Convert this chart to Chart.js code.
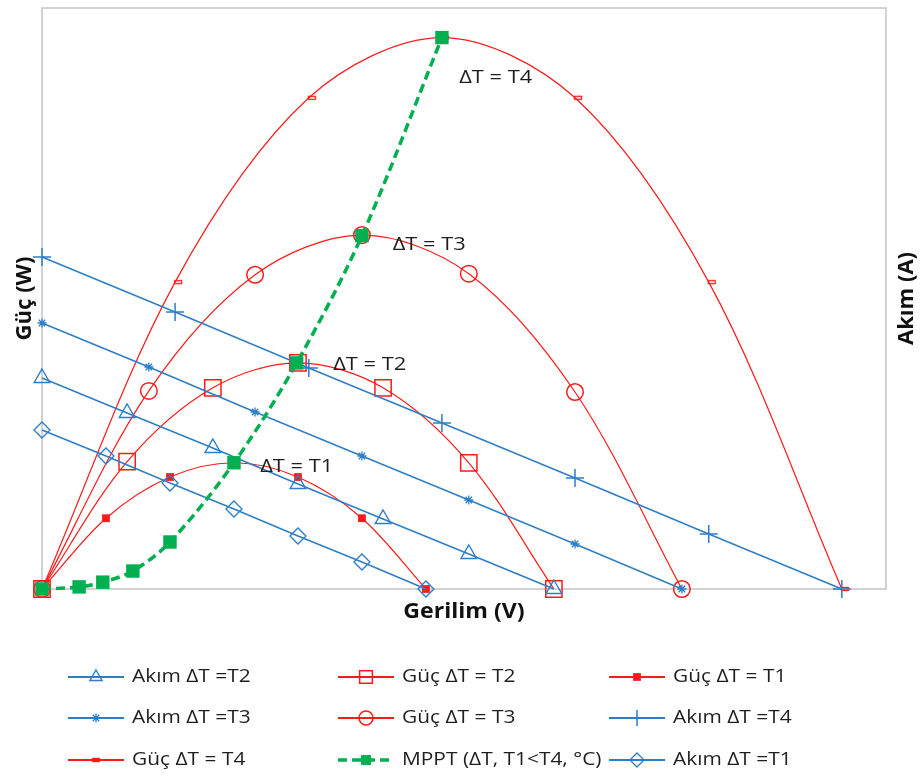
<!DOCTYPE html>
<html>
<head>
<meta charset="utf-8">
<script src="https://cdn.jsdelivr.net/npm/chart.js@4/dist/chart.umd.min.js"></script>
<style>
  html, body { margin: 0; padding: 0; background: #ffffff; }
  #wrap { width: 924px; height: 776px; position: relative; }
</style>
</head>
<body>
<div id="wrap"><canvas id="chart"></canvas></div>
<script>
// Voltage samples (V) for each temperature difference
const vT1 = [0, 1, 2, 3, 4, 5, 6];
const vT2 = [0, 1.33, 2.67, 4, 5.33, 6.67, 8];
const vT3 = [0, 1.67, 3.33, 5, 6.67, 8.33, 10];
const vT4 = [0, 2.08, 4.17, 6.25, 8.33, 10.42, 12.5];
const vMppt = [0, 0.58, 0.95, 1.42, 2.0, 3.0, 3.98, 5.0, 6.25];

// Current (A)
const iT1 = [1.59, 1.33, 1.06, 0.80, 0.53, 0.27, 0];
const iT2 = [2.11, 1.76, 1.41, 1.05, 0.70, 0.35, 0];
const iT3 = [2.66, 2.22, 1.77, 1.33, 0.89, 0.45, 0];
const iT4 = [3.32, 2.77, 2.21, 1.66, 1.11, 0.55, 0];

// Power (W)
const pT1 = [0, 1.34, 2.12, 2.39, 2.12, 1.34, 0];
const pT2 = [0, 2.41, 3.81, 4.28, 3.81, 2.39, 0];
const pT3 = [0, 3.75, 5.95, 6.70, 5.97, 3.73, 0];
const pT4 = [0, 5.81, 9.30, 10.44, 9.30, 5.81, 0];
const pMppt = [0, 0.04, 0.13, 0.34, 0.89, 2.39, 4.28, 6.69, 10.44];

// Curve labels and where they sit (V, W)
const curveLabels = ['ΔT = T1', 'ΔT = T2', 'ΔT = T3', 'ΔT = T4'];
const curveLabelAt = [[3.41, 2.31], [4.55, 4.24], [5.48, 6.53], [6.52, 9.68]];

const BLUE = '#2D7EC6';
const RED = '#FF1A1A';
const GREEN = '#00B050';
const FONT = '"Open Sans", Lato, "Liberation Sans", sans-serif';

const pts = (xs, ys) => xs.map((x, k) => ({ x: x, y: ys[k] }));

// Text drawn slightly widened, like the wide Office face
function wideText(ctx, text, x, y, sx, rot) {
  ctx.save();
  ctx.translate(x, y);
  if (rot) ctx.rotate(rot);
  ctx.scale(sx, 1);
  ctx.fillText(text, 0, 0);
  ctx.restore();
}

// Small outlined bar used as the marker of the largest power curve
const dashMark = document.createElement('canvas');
dashMark.width = 22; dashMark.height = 8;
(function () {
  const c = dashMark.getContext('2d');
  c.strokeStyle = RED; c.lineWidth = 1.3;
  c.strokeRect(10.5, 2.5, 7, 3);
})();

const NONE = 'rgba(0,0,0,0)';

const datasets = [
  { label: 'MPPT (ΔT, T1<T4, °C)', data: pts(vMppt, pMppt), yAxisID: 'yP',
    borderColor: GREEN, backgroundColor: GREEN, borderWidth: 3.5, borderDash: [9, 5],
    tension: 0.33, pointStyle: 'rect', pointRadius: 9.5, pointBorderWidth: 0,
    pointBackgroundColor: GREEN, legendRadius: 7 },
  { label: 'Akım ΔT =T1', data: pts(vT1, iT1), yAxisID: 'yI',
    borderColor: BLUE, backgroundColor: NONE, borderWidth: 1.5, tension: 0,
    pointStyle: 'rectRot', pointRadius: 8, pointBorderWidth: 1.3, legendRadius: 7 },
  { label: 'Akım ΔT =T2', data: pts(vT2, iT2), yAxisID: 'yI',
    borderColor: BLUE, backgroundColor: NONE, borderWidth: 1.5, tension: 0,
    pointStyle: 'triangle', pointRadius: 9, pointBorderWidth: 1.4, legendRadius: 7 },
  { label: 'Akım ΔT =T3', data: pts(vT3, iT3), yAxisID: 'yI',
    borderColor: BLUE, backgroundColor: NONE, borderWidth: 1.5, tension: 0,
    pointStyle: 'star', pointRadius: 4.5, pointBorderWidth: 1.3, legendRadius: 4.5 },
  { label: 'Akım ΔT =T4', data: pts(vT4, iT4), yAxisID: 'yI',
    borderColor: BLUE, backgroundColor: NONE, borderWidth: 1.5, tension: 0,
    pointStyle: 'cross', pointRadius: 9, pointBorderWidth: 1.5, legendRadius: 8 },
  { label: 'Güç ΔT = T1', data: pts(vT1, pT1), yAxisID: 'yP',
    borderColor: RED, backgroundColor: RED, borderWidth: 1.2, tension: 0.33,
    pointStyle: 'rect', pointRadius: 5.5, pointBorderWidth: 0,
    pointBackgroundColor: RED, legendRadius: 5.5 },
  { label: 'Güç ΔT = T2', data: pts(vT2, pT2), yAxisID: 'yP',
    borderColor: RED, backgroundColor: NONE, borderWidth: 1.2, tension: 0.33,
    pointStyle: 'rect', pointRadius: 11.5, pointBorderWidth: 1.5, legendRadius: 9 },
  { label: 'Güç ΔT = T3', data: pts(vT3, pT3), yAxisID: 'yP',
    borderColor: RED, backgroundColor: NONE, borderWidth: 1.2, tension: 0.33,
    pointStyle: 'circle', pointRadius: 8.3, pointBorderWidth: 1.5, legendRadius: 7 },
  { label: 'Güç ΔT = T4', data: pts(vT4, pT4), yAxisID: 'yP',
    borderColor: RED, backgroundColor: NONE, borderWidth: 1.2, tension: 0.33,
    pointStyle: dashMark, pointRadius: 4, pointBorderWidth: 1.3, legendRadius: 4 }
];

// Legend is laid out as a 3-column grid, row by row
const legendOrder = [
  'Akım ΔT =T2', 'Güç ΔT = T2', 'Güç ΔT = T1',
  'Akım ΔT =T3', 'Güç ΔT = T3', 'Akım ΔT =T4',
  'Güç ΔT = T4', 'MPPT (ΔT, T1<T4, °C)', 'Akım ΔT =T1'
];

const decor = {
  id: 'decor',
  beforeDatasetsDraw(chart) {
    const { ctx, chartArea: a } = chart;
    ctx.save();
    ctx.strokeStyle = '#C4C4C4';
    ctx.lineWidth = 1.5;
    ctx.strokeRect(a.left, a.top, a.right - a.left, a.bottom - a.top);
    ctx.restore();
  },
  afterDatasetsDraw(chart) {
    const { ctx, chartArea: a, scales } = chart;
    ctx.save();
    // curve labels
    ctx.fillStyle = '#1E1E1E';
    ctx.font = '19px ' + FONT;
    ctx.textAlign = 'left';
    ctx.textBaseline = 'middle';
    curveLabels.forEach((t, k) => {
      wideText(ctx, t, scales.x.getPixelForValue(curveLabelAt[k][0]),
               scales.yP.getPixelForValue(curveLabelAt[k][1]), 1.15);
    });
    // axis titles
    ctx.fillStyle = '#111111';
    ctx.font = 'bold 21px ' + FONT;
    ctx.textAlign = 'center';
    wideText(ctx, 'Gerilim (V)', (a.left + a.right) / 2, a.bottom + 23, 1.1);
    const midY = (a.top + a.bottom) / 2;
    wideText(ctx, 'Güç (W)', a.left - 17, midY, 1.05, -Math.PI / 2);
    wideText(ctx, 'Akım (A)', a.right + 21, midY, 1.05, -Math.PI / 2);

    // legend
    const colX = [68, 338, 609];
    const rowY = [677, 718, 760];
    const lineLen = 56;
    ctx.font = '19px ' + FONT;
    ctx.textAlign = 'left';
    ctx.textBaseline = 'middle';
    legendOrder.forEach((name, k) => {
      const ds = chart.data.datasets.find(d => d.label === name);
      const x0 = colX[k % 3], y0 = rowY[Math.floor(k / 3)];
      ctx.save();
      ctx.strokeStyle = ds.borderColor;
      ctx.lineWidth = ds.borderWidth < 2 ? 1.8 : ds.borderWidth;
      ctx.setLineDash(ds.borderDash || []);
      ctx.beginPath();
      ctx.moveTo(x0, y0);
      ctx.lineTo(x0 + lineLen, y0);
      ctx.stroke();
      ctx.setLineDash([]);
      ctx.fillStyle = ds.pointBackgroundColor || NONE;
      ctx.lineWidth = ds.pointBorderWidth || 1;
      const cx = x0 + lineLen / 2 + (ds.pointStyle === dashMark ? -3 : 0);
      Chart.helpers.drawPoint(ctx, {
        pointStyle: ds.pointStyle, radius: ds.legendRadius,
        borderWidth: ds.pointBorderWidth, rotation: 0
      }, cx, y0);
      ctx.restore();
      ctx.fillStyle = '#1E1E1E';
      wideText(ctx, name, x0 + lineLen + 8, y0, 1.1);
    });
    ctx.restore();
  }
};

new Chart(document.getElementById('chart'), {
  type: 'line',
  data: { datasets: datasets.map(d => Object.assign({
    fill: false, clip: false, pointHoverRadius: d.pointRadius,
    pointBorderColor: d.borderColor, cubicInterpolationMode: 'default'
  }, d)) },
  options: {
    responsive: true,
    maintainAspectRatio: false,
    animation: false,
    events: [],
    layout: { autoPadding: false, padding: { left: 42, top: 8, right: 38, bottom: 187 } },
    plugins: { legend: { display: false }, tooltip: { enabled: false } },
    scales: {
      x: { type: 'linear', min: 0, max: 13.19, display: false },
      yP: { type: 'linear', position: 'left', min: 0, max: 11, display: false },
      yI: { type: 'linear', position: 'right', min: 0, max: 5.81, display: false }
    }
  },
  plugins: [decor]
});
</script>
</body>
</html>
